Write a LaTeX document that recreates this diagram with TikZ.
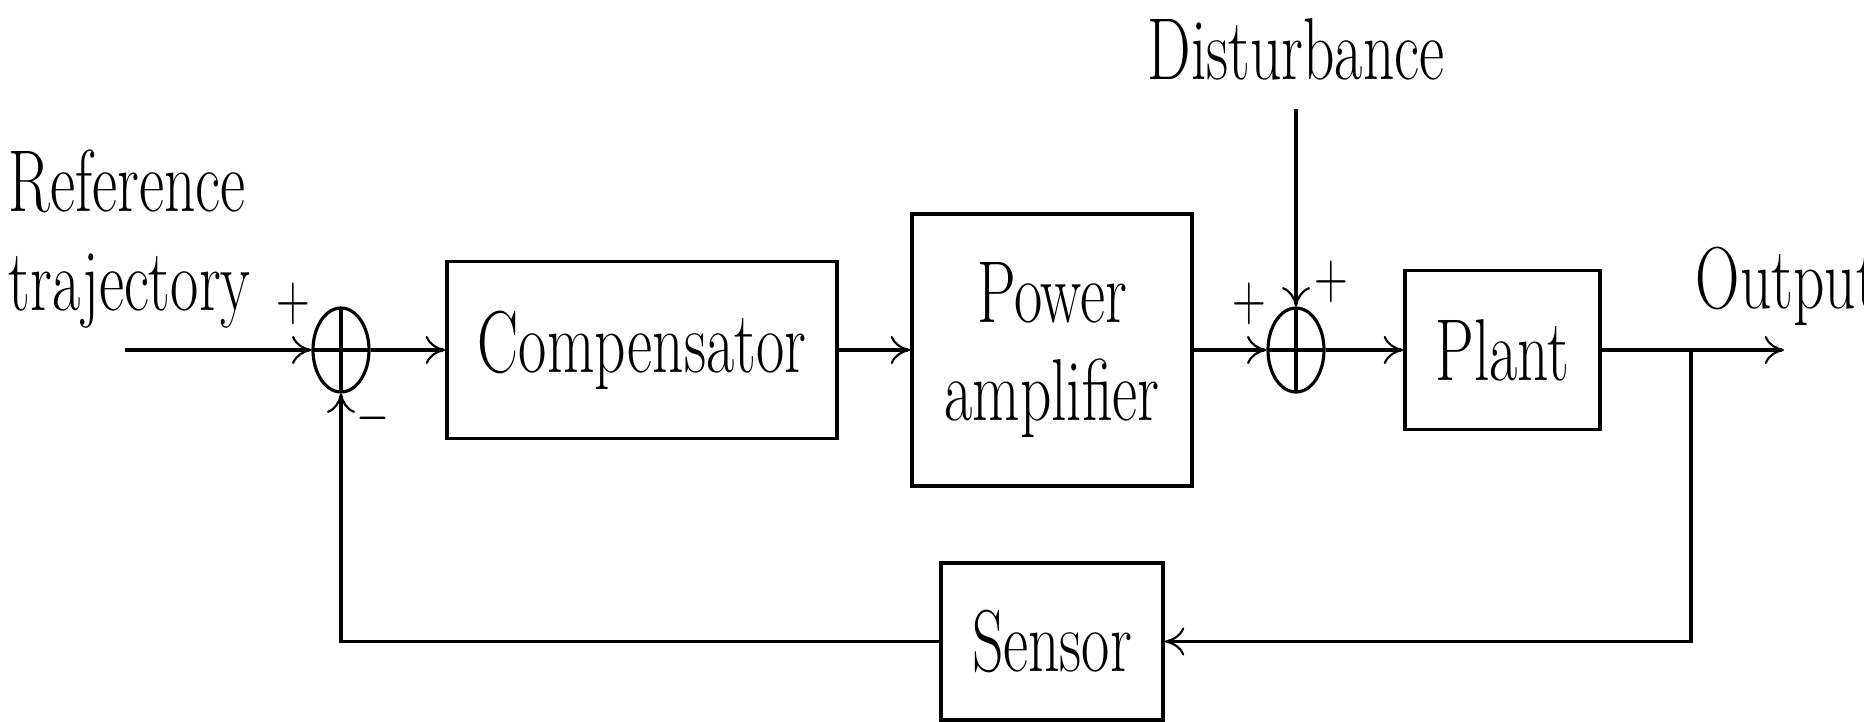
\documentclass[tikz,border=0pt]{standalone}
\usepackage{graphicx}
\usepackage{tikz}
\usetikzlibrary{arrows.meta,shapes.geometric}

\newcommand{\slim}[1]{\scalebox{0.70}[1]{#1}}

\tikzset{
  block/.style={draw,line width=1.1pt,inner sep=0pt,align=center,font=\fontsize{25}{28}\selectfont},
  sumnode/.style={draw,ellipse,line width=0.9pt,inner sep=0pt,minimum width=0.56cm,minimum height=0.84cm,
    path picture={\draw[line width=0.9pt] (path picture bounding box.north)--(path picture bounding box.south)
      (path picture bounding box.west)--(path picture bounding box.east);}},
  lbl/.style={inner sep=0pt,align=left,font=\fontsize{25}{28}\selectfont},
  sgn/.style={inner sep=0pt,font=\fontsize{19}{22}\selectfont},
  sig/.style={line width=1pt,-{To[length=5.5pt,width=8pt,line width=0.6pt]}},
}

\begin{document}
\begin{tikzpicture}
\useasboundingbox (0,0) rectangle (18.64,7.21);
% forward path
\node[sumnode] (sumA) at (3.41,3.71) {};
\node[block,minimum width=3.9cm,minimum height=1.77cm] (comp) at (6.42,3.71) {\slim{Compensator}};
\node[block,minimum width=2.8cm,minimum height=2.72cm] (amp) at (10.52,3.71) {\slim{Power}\\\slim{amplifier}};
\node[sumnode] (sumB) at (12.96,3.71) {};
\node[block,minimum width=1.95cm,minimum height=1.59cm] (plant) at (15.025,3.71) {\slim{Plant}};
% feedback path
\node[block,minimum width=2.22cm,minimum height=1.57cm] (sensor) at (10.52,0.795) {\slim{Sensor}};

% outside labels
\node[lbl,anchor=west] (ref) at (0.08,4.82) {\slim{Reference}\\\slim{trajectory}};
\node[lbl,anchor=base] (dist) at (12.96,6.41) {\slim{Disturbance}};
\node[lbl,anchor=base west] (outlbl) at (16.95,4.13) {\slim{Output}};

% signs at the summing points
\node[sgn] (pA) at ([shift={(-0.48,0.46)}]sumA) {\slim{+}};
\node[sgn] (mA) at ([shift={(0.32,-0.68)}]sumA) {\slim{$-$}};
\node[sgn] (pB) at ([shift={(-0.47,0.46)}]sumB) {\slim{+}};
\node[sgn] (pC) at ([shift={(0.35,0.68)}]sumB) {\slim{+}};

\coordinate (rin) at (1.25,3.71);
\coordinate (din) at (12.96,6.12);
\coordinate (tap) at (16.91,3.71);
\coordinate (yend) at (17.84,3.71);

\draw[sig] (rin) -- (sumA);
\draw[sig] (sumA) -- (comp);
\draw[sig] (comp) -- (amp);
\draw[sig] (amp) -- (sumB);
\draw[sig] (din) -- (sumB);
\draw[sig] (sumB) -- (plant);
\draw[sig] (plant) -- (yend);
\draw[sig] (tap) |- (sensor);
\draw[sig] (sensor) -| (sumA);
\end{tikzpicture}
\end{document}
